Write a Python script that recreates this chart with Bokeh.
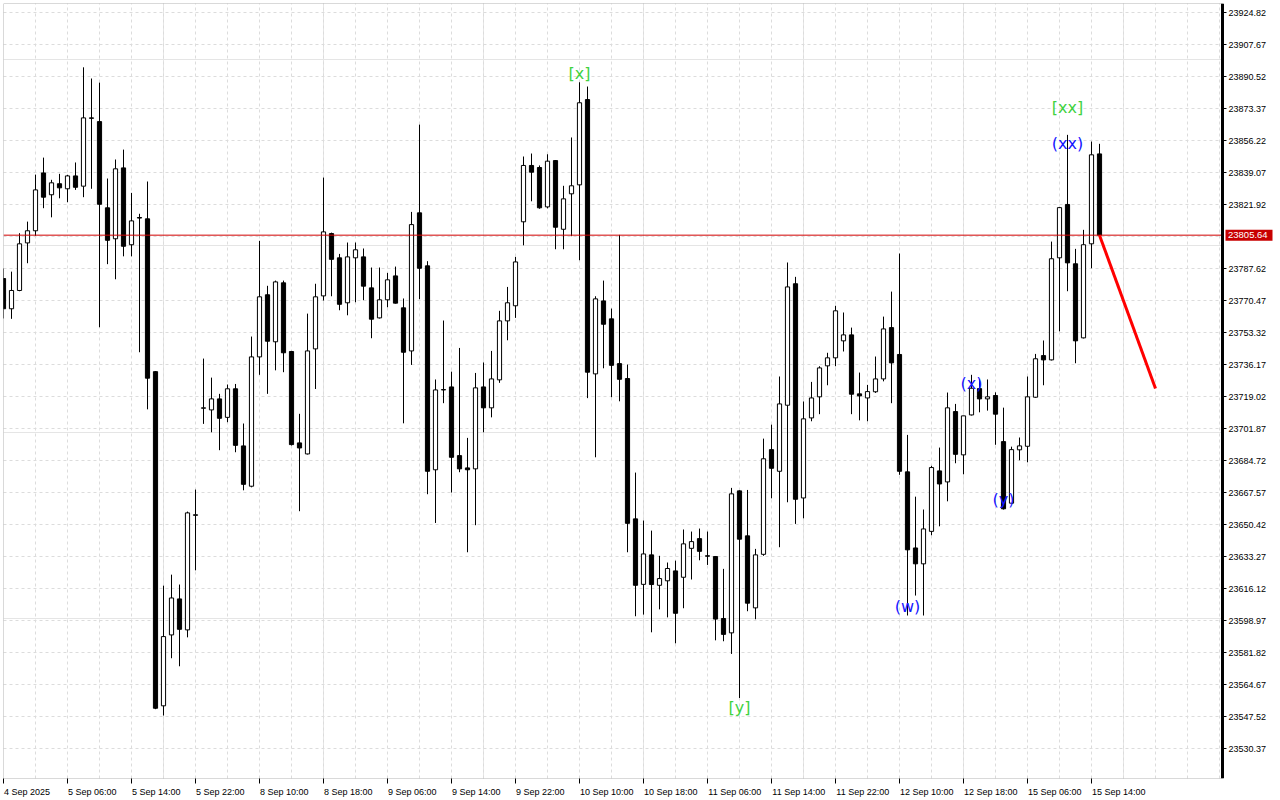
import numpy as np
from bokeh.plotting import figure
from bokeh.models import (Range1d, LinearAxis, FixedTicker, PrintfTickFormatter, BoxAnnotation,
                          ColumnDataSource, Grid, CustomJSTickFormatter)
from bokeh.embed import file_html
from bokeh.resources import INLINE
from bokeh.core.properties import value

# ---------------- data (H1 bars) ----------------
open_ = [23782.4, 23766.2, 23776.0, 23801.5, 23808.0, 23839.0, 23827.3, 23833.2, 23830.5, 23837.4,
         23831.9, 23868.5, 23866.5, 23820.3, 23803.7, 23841.7, 23800.5, 23815.1, 23814.4, 23732.5,
         23553.4, 23591.4, 23610.7, 23594.1, 23655.5, 23712.9, 23712.0, 23717.9, 23708.0, 23723.3,
         23692.7, 23671.1, 23740.4, 23773.7, 23748.5, 23780.1, 23743.3, 23694.3, 23688.4, 23744.7,
         23773.1, 23806.5, 23793.5, 23769.4, 23793.5, 23794.0, 23777.4, 23761.3, 23771.0, 23783.8,
         23766.7, 23743.6, 23817.6, 23789.2, 23679.9, 23722.7, 23724.3, 23687.5, 23680.9, 23680.4,
         23724.3, 23713.1, 23728.1, 23759.7, 23767.8, 23812.8, 23843.0, 23841.9, 23820.8, 23845.6,
         23808.8, 23827.8, 23832.6, 23878.3, 23731.3, 23770.4, 23760.8, 23736.8, 23728.8, 23653.6,
         23618.5, 23634.3, 23618.0, 23620.4, 23625.7, 23622.3, 23637.8, 23643.0, 23633.8, 23633.4,
         23600.2, 23592.5, 23668.6, 23644.5, 23605.9, 23634.6, 23690.7, 23679.1, 23714.5, 23779.6,
         23664.8, 23707.7, 23719.0, 23735.6, 23739.9, 23749.0, 23752.2, 23720.6, 23718.4, 23721.7,
         23728.6, 23756.1, 23741.7, 23678.8, 23638.0, 23629.5, 23646.9, 23679.3, 23673.4, 23711.1,
         23687.9, 23709.3, 23723.4, 23717.9, 23719.7, 23695.0, 23662.0, 23690.6, 23692.5, 23718.8,
         23741.1, 23738.8, 23793.5, 23822.1, 23790.3, 23750.6, 23801.0, 23849.2]
high = [23787.8, 23786.1, 23806.7, 23812.9, 23838.1, 23847.2, 23835.3, 23838.5, 23838.0, 23844.6,
        23895.6, 23889.6, 23887.4, 23836.0, 23846.2, 23851.5, 23828.3, 23817.1, 23834.4, 23732.8,
        23617.8, 23623.7, 23618.4, 23657.5, 23669.3, 23739.5, 23729.3, 23720.6, 23725.6, 23725.9,
        23704.7, 23751.3, 23802.6, 23778.5, 23781.3, 23781.3, 23743.6, 23709.9, 23763.6, 23779.6,
        23836.5, 23807.0, 23795.6, 23801.7, 23801.7, 23798.5, 23788.3, 23788.3, 23785.4, 23788.8,
        23771.7, 23818.1, 23864.9, 23791.7, 23728.3, 23759.9, 23732.5, 23745.2, 23697.0, 23731.8,
        23737.4, 23743.6, 23765.1, 23777.9, 23794.0, 23847.8, 23849.4, 23843.0, 23849.0, 23845.9,
        23832.1, 23858.0, 23887.6, 23885.3, 23772.9, 23781.3, 23766.3, 23805.8, 23736.3, 23678.4,
        23652.7, 23647.3, 23633.8, 23630.2, 23631.2, 23647.9, 23646.8, 23648.4, 23646.8, 23633.7,
        23626.8, 23670.2, 23668.9, 23669.1, 23637.5, 23696.6, 23704.1, 23729.9, 23791.0, 23783.3,
        23716.5, 23727.0, 23735.4, 23742.6, 23767.8, 23764.2, 23756.1, 23732.0, 23725.4, 23740.6,
        23762.0, 23775.4, 23795.8, 23698.6, 23665.5, 23658.6, 23682.0, 23691.8, 23721.3, 23715.2,
        23708.8, 23730.8, 23728.3, 23728.3, 23721.4, 23713.2, 23692.3, 23697.2, 23729.9, 23742.0,
        23749.2, 23802.2, 23820.6, 23859.4, 23798.3, 23808.5, 23855.8, 23854.6]
low = [23761.0, 23760.8, 23775.6, 23790.6, 23805.3, 23820.1, 23815.2, 23825.4, 23823.3, 23829.9,
       23826.0, 23830.5, 23756.3, 23790.1, 23782.0, 23794.3, 23794.3, 23742.9, 23712.3, 23551.6,
       23548.2, 23578.9, 23574.6, 23590.1, 23626.0, 23704.5, 23700.0, 23690.4, 23705.4, 23689.3,
       23668.9, 23670.5, 23730.8, 23720.6, 23733.2, 23732.2, 23692.9, 23657.7, 23688.1, 23723.2,
       23770.6, 23772.9, 23765.4, 23762.7, 23769.7, 23770.8, 23750.4, 23761.0, 23767.0, 23769.0,
       23704.8, 23736.1, 23771.3, 23666.8, 23651.4, 23715.6, 23667.7, 23678.6, 23635.7, 23650.2,
       23700.0, 23708.0, 23726.5, 23749.3, 23761.3, 23800.2, 23823.8, 23819.8, 23820.0, 23798.1,
       23798.1, 23805.1, 23792.2, 23718.3, 23686.6, 23734.3, 23718.8, 23716.6, 23635.7, 23601.4,
       23602.3, 23592.8, 23605.1, 23600.8, 23586.9, 23605.7, 23621.1, 23631.4, 23628.9, 23588.5,
       23588.0, 23581.2, 23557.6, 23604.1, 23599.8, 23633.8, 23664.6, 23638.4, 23662.5, 23650.9,
       23653.9, 23705.9, 23709.7, 23725.2, 23735.4, 23743.3, 23709.7, 23706.4, 23705.9, 23721.1,
       23727.3, 23715.6, 23677.2, 23601.8, 23612.5, 23601.8, 23644.8, 23649.6, 23663.0, 23683.4,
       23677.5, 23709.0, 23710.7, 23711.6, 23693.3, 23658.6, 23661.8, 23685.0, 23683.9, 23718.5,
       23725.2, 23738.5, 23754.1, 23775.6, 23737.0, 23750.3, 23787.9, 23805.4]
close = [23766.2, 23776.0, 23801.0, 23808.0, 23829.9, 23826.0, 23833.7, 23831.0, 23837.4, 23831.3,
         23868.5, 23868.3, 23822.2, 23802.9, 23841.2, 23799.7, 23813.3, 23814.8, 23729.0, 23552.1,
         23590.5, 23611.2, 23594.4, 23656.8, 23655.8, 23713.1, 23717.9, 23707.5, 23723.3, 23693.0,
         23672.1, 23740.4, 23772.6, 23748.8, 23780.6, 23742.6, 23693.4, 23691.6, 23743.6, 23772.6,
         23807.4, 23792.7, 23768.6, 23794.0, 23797.8, 23778.3, 23760.6, 23771.0, 23781.7, 23769.2,
         23742.9, 23811.3, 23787.9, 23679.1, 23722.7, 23722.9, 23686.6, 23680.4, 23679.9, 23723.8,
         23713.1, 23728.6, 23759.7, 23769.4, 23791.3, 23843.0, 23839.4, 23820.3, 23845.3, 23809.9,
         23825.1, 23832.1, 23876.6, 23732.2, 23771.5, 23757.9, 23735.9, 23728.4, 23651.2, 23618.0,
         23634.8, 23618.4, 23621.6, 23627.0, 23603.0, 23640.2, 23641.4, 23636.2, 23633.6, 23599.9,
         23591.7, 23667.0, 23642.7, 23608.4, 23634.3, 23685.8, 23680.7, 23715.2, 23777.9, 23664.1,
         23707.2, 23718.4, 23734.5, 23739.9, 23765.1, 23752.2, 23720.4, 23719.5, 23721.8, 23728.6,
         23755.4, 23737.2, 23679.1, 23637.0, 23629.5, 23648.2, 23681.1, 23672.3, 23713.1, 23688.2,
         23708.8, 23723.6, 23717.9, 23719.0, 23709.7, 23659.0, 23690.7, 23692.7, 23719.0, 23739.4,
         23738.8, 23793.0, 23820.4, 23790.8, 23749.0, 23800.5, 23848.7, 23805.64]

time_labels = ["4 Sep 2025", "5 Sep 06:00", "5 Sep 14:00", "5 Sep 22:00", "8 Sep 10:00", "8 Sep 18:00",
               "9 Sep 06:00", "9 Sep 14:00", "9 Sep 22:00", "10 Sep 10:00", "10 Sep 18:00",
               "11 Sep 06:00", "11 Sep 14:00", "11 Sep 22:00", "12 Sep 10:00", "12 Sep 18:00",
               "15 Sep 06:00", "15 Sep 14:00"]
time_label_bars = [0, 8, 16, 24, 32, 40, 48, 56, 64, 72, 80, 88, 96, 104, 112, 120, 128, 136]

price_ticks = [23530.37, 23547.52, 23564.67, 23581.82, 23598.97, 23616.12, 23633.27, 23650.42,
               23667.57, 23684.72, 23701.87, 23719.02, 23736.17, 23753.32, 23770.47, 23787.62,
               23821.92, 23839.07, 23856.22, 23873.37, 23890.52, 23907.67, 23924.82]
grid_prices = [23530.37, 23547.52, 23564.67, 23581.82, 23598.97, 23616.12, 23633.27, 23650.42,
               23667.57, 23684.72, 23701.87, 23719.02, 23736.17, 23753.32, 23770.47, 23787.62,
               23804.77, 23821.92, 23839.07, 23856.22, 23873.37, 23890.52, 23907.67, 23924.82]
last_price = 23805.64

forecast_bars = [137, 144]
forecast_prices = [23805.64, 23723.5]

wave_labels = ["[x]", "[xx]", "(xx)", "(x)", "(y)", "(w)", "[y]"]
wave_bars = [72, 133, 133, 121, 125, 113, 92]
wave_prices = [23892.3, 23874.0, 23854.8, 23726.1, 23663.9, 23606.6, 23552.4]
wave_colors = ["#3fd23f", "#3fd23f", "#1414ff", "#1414ff", "#1414ff", "#1414ff", "#3fd23f"]

# ---------------- figure ----------------
W, H = 1280, 800
FL, FT, FB = 3, 3, 22           # frame borders in px (frame runs to the right edge)
AXIS_PX = 1222                  # where the price scale sits
BAR_PX = 8.0
n_all = (W - FL) / BAR_PX
n_axis = (AXIS_PX - FL) / BAR_PX

p = figure(width=W, height=H, output_backend="svg", toolbar_location=None,
           x_axis_location=None, y_axis_location=None,
           x_range=Range1d(0, n_all), y_range=Range1d(23514.45, 23929.8),
           min_border_left=FL, min_border_top=FT, min_border_right=0, min_border_bottom=FB,
           background_fill_color="white", border_fill_color="white")
p.outline_line_color = None

FONT = "Liberation Sans"

# grids
xg = Grid(dimension=0, ticker=FixedTicker(ticks=list(range(0, 153, 4))),
          grid_line_color="#dcdcdc", grid_line_dash="3 3", grid_line_width=1)
yg = Grid(dimension=1, ticker=FixedTicker(ticks=grid_prices),
          grid_line_color="#dcdcdc", grid_line_dash="3 3", grid_line_width=1)
p.add_layout(xg)
p.add_layout(yg)
# white price-scale area right of the axis (hides grid there)
p.add_layout(BoxAnnotation(left=n_axis, fill_color="white", fill_alpha=1.0, line_color=None,
                           level="underlay"))
# chart frame (left / top / bottom edges up to the price scale)
p.add_layout(BoxAnnotation(left=0, right=n_axis, fill_alpha=0.0, line_color="black",
                           line_width=1, level="underlay"))

# x axis: labels start at the tick (MetaTrader style)
AW = {**{d: 556 for d in "0123456789"}, " ": 278, ":": 278, "S": 667, "e": 556, "p": 556}
def text_w(s, size):
    return sum(AW.get(c, 556) for c in s) * size / 1000.0
label_centers = [b + (text_w(s, 9) / 2 + 0.5) / BAR_PX for b, s in zip(time_label_bars, time_labels)]

xaxis = LinearAxis(
    ticker=FixedTicker(ticks=label_centers, minor_ticks=time_label_bars),
    formatter=CustomJSTickFormatter(args=dict(labels=time_labels), code="return labels[index]"),
    major_tick_in=0, major_tick_out=0, minor_tick_in=0, minor_tick_out=5,
    minor_tick_line_color="black", axis_line_color=None,
    major_label_standoff=3, major_label_text_font=FONT, major_label_text_font_size="9px",
    major_label_text_color="black")
p.add_layout(xaxis, "below")

yaxis = LinearAxis(
    fixed_location=n_axis,
    ticker=FixedTicker(ticks=price_ticks, minor_ticks=[]),
    formatter=PrintfTickFormatter(format="%.2f"),
    major_tick_in=0, major_tick_out=4, minor_tick_out=0, minor_tick_in=0,
    axis_line_color="black", axis_line_width=3,
    major_label_standoff=2, major_label_text_font=FONT, major_label_text_font_size="9px",
    major_label_text_color="black")
p.add_layout(yaxis, "right")

# candles
idx = np.arange(len(open_))
o = np.array(open_); h = np.array(high); l = np.array(low); c = np.array(close)
up = c >= o
dn = ~up

p.segment(x0=idx, y0=l, x1=idx, y1=h, line_color="black", line_width=1)
p.vbar(x=idx[up], width=0.52, bottom=o[up], top=c[up], fill_color="white",
       line_color="black", line_width=1)
p.vbar(x=idx[dn], width=0.52, bottom=c[dn], top=o[dn], fill_color="black",
       line_color="black", line_width=1)

# current price line (up to the price scale) + red tag on the scale
p.segment(x0=[0], y0=[last_price], x1=[n_axis], y1=[last_price], line_color="#d00000", line_width=1)
p.rect(x=[n_axis + (3 + 47 / 2) / BAR_PX], y=[last_price], width=47, height=11,
       width_units="screen", height_units="screen", fill_color="#c80000", line_color=None)
p.text(x=[n_axis + 5.5 / BAR_PX], y=[last_price], text=[f"{last_price:.2f}"],
       text_align="left", text_baseline="middle", text_color="white",
       text_font=value(FONT), text_font_size="9.5px")

# forecast line
p.line(forecast_bars, forecast_prices, line_color="#ff0000", line_width=3)

# wave labels
src = ColumnDataSource(dict(x=wave_bars, y=wave_prices, t=wave_labels, col=wave_colors))
p.text(x="x", y="y", text="t", text_color="col", source=src, text_align="center",
       text_baseline="middle", text_font=value("DejaVu Sans"), text_font_size="16px")

html = file_html(p, INLINE)
html = html.replace("<head>", "<head><style>html, body {margin:0; padding:0;}</style>", 1)
open("out.html", "w").write(html)
